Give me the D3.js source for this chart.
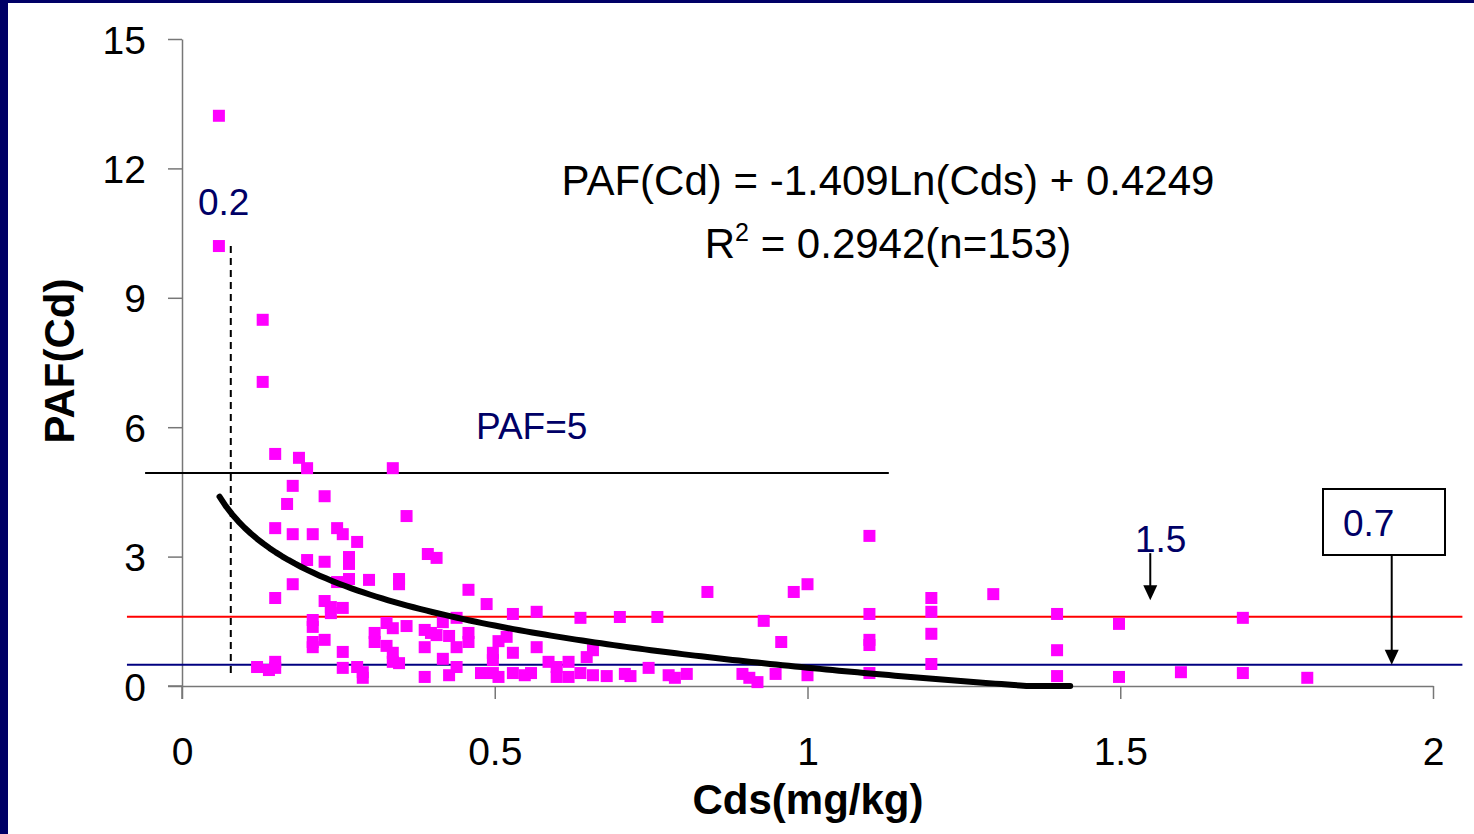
<!DOCTYPE html>
<html>
<head>
<meta charset="utf-8">
<script src="https://cdn.jsdelivr.net/npm/d3@7"></script>
<style>
  html, body { margin: 0; padding: 0; background: #fff; }
  svg { display: block; }
</style>
</head>
<body>
<div id="chart"></div>
<script>
// Scatter data: Cds (mg/kg) vs PAF(Cd)
var cds = [0.059, 0.059, 0.129, 0.129, 0.149, 0.187, 0.200, 0.337, 0.177, 0.168,
  0.228, 0.359, 0.149, 0.177, 0.209, 0.248, 0.257, 0.280, 0.200, 0.228,
  0.267, 0.267, 0.393, 0.407, 0.177, 0.248, 0.267, 0.299, 0.347, 0.347,
  0.149, 0.228, 0.238, 0.238, 0.257, 0.209, 0.209, 0.209, 0.209, 0.228,
  0.257, 0.327, 0.337, 0.359, 0.308, 0.308, 0.327, 0.337, 0.337, 0.347,
  0.388, 0.398, 0.388, 0.388, 0.120, 0.139, 0.149, 0.149, 0.257, 0.280,
  0.289, 0.289, 0.458, 0.487, 0.417, 0.439, 0.407, 0.427, 0.439, 0.458,
  0.458, 0.529, 0.567, 0.637, 0.519, 0.506, 0.529, 0.567, 0.417, 0.427,
  0.439, 0.478, 0.497, 0.497, 0.497, 0.506, 0.529, 0.548, 0.558, 0.586,
  0.599, 0.599, 0.618, 0.618, 0.637, 0.647, 0.657, 0.657, 1.099, 0.840,
  0.978, 1.000, 0.700, 0.760, 0.930, 1.099, 1.099, 1.099, 0.958, 0.679,
  0.708, 0.717, 0.746, 0.778, 0.788, 0.807, 0.896, 0.907, 0.920, 0.949,
  1.000, 1.099, 1.198, 1.198, 1.198, 1.198, 1.297, 1.399, 1.399, 1.399,
  1.498, 1.498, 1.597, 1.696, 1.696, 1.799];
var paf = [13.22, 10.20, 8.49, 7.05, 5.38, 5.29, 5.05, 5.05, 4.64, 4.22,
  4.40, 3.94, 3.66, 3.52, 3.52, 3.66, 3.52, 3.34, 2.92, 2.88,
  2.99, 2.83, 3.06, 2.97, 2.36, 2.41, 2.48, 2.46, 2.48, 2.36,
  2.04, 1.97, 1.83, 1.69, 1.81, 1.53, 1.37, 1.02, 0.90, 1.07,
  0.79, 1.46, 1.34, 1.39, 1.23, 1.02, 0.93, 0.77, 0.56, 0.53,
  1.30, 1.23, 0.90, 0.21, 0.44, 0.37, 0.56, 0.42, 0.42, 0.44,
  0.32, 0.19, 2.23, 1.90, 1.48, 1.58, 1.18, 1.16, 0.90, 1.23,
  1.02, 1.67, 1.72, 1.58, 1.14, 1.04, 0.77, 0.90, 0.63, 0.25,
  0.44, 0.30, 0.77, 0.60, 0.30, 0.21, 0.30, 0.25, 0.30, 0.56,
  0.44, 0.21, 0.21, 0.56, 0.30, 0.67, 0.83, 0.25, 3.48, 2.18,
  2.18, 2.36, 1.60, 1.60, 1.51, 1.67, 1.07, 0.95, 1.02, 0.23,
  0.28, 0.23, 0.42, 0.25, 0.19, 0.28, 0.28, 0.19, 0.09, 0.28,
  0.25, 0.30, 2.04, 1.72, 1.21, 0.51, 2.13, 1.67, 0.83, 0.23,
  1.44, 0.21, 0.32, 1.58, 0.30, 0.19];

// Axis ticks
var xTicks = [0, 0.5, 1, 1.5, 2];
var yTicks = [0, 3, 6, 9, 12, 15];

// Log trendline: PAF = a*ln(Cds) + b
var trendA = -1.409;
var trendB = 0.4249;
var trendRange = [0.06, 1.42];

// Reference lines (PAF level, x extent in data units)
var redLevel = 1.607;
var navyLevel = 0.49;
var pafFiveLevel = 4.94;
var cutoffX = 0.078;

var width = 1474, height = 834;

var svg = d3.select('#chart').append('svg')
  .attr('width', width)
  .attr('height', height)
  .style('font-family', 'Liberation Sans, Arial, sans-serif');

// navy frame on top and left
svg.append('rect').attr('x', 0).attr('y', 0).attr('width', width).attr('height', 3).attr('fill', '#000066');
svg.append('rect').attr('x', 0).attr('y', 0).attr('width', 8).attr('height', height).attr('fill', '#000066');

var x = d3.scaleLinear().domain([0, 2]).range([182, 1433]);
var y = d3.scaleLinear().domain([0, 15]).range([686, 39]);

// Axes
var axisColor = '#777';
var yAxis = svg.append('g')
  .attr('transform', 'translate(' + x(0) + ',0)')
  .call(d3.axisLeft(y).tickValues(yTicks).tickSize(14).tickSizeOuter(0).tickPadding(22));
var xAxis = svg.append('g')
  .attr('transform', 'translate(0,' + y(0) + ')')
  .call(d3.axisBottom(x).tickValues(xTicks).tickSize(13).tickSizeOuter(0).tickPadding(38)
    .tickFormat(function (d) { return String(d); }));

[xAxis, yAxis].forEach(function (g) {
  g.select('.domain').attr('stroke', axisColor).attr('stroke-width', 1.5);
  g.selectAll('.tick line').attr('stroke', axisColor).attr('stroke-width', 1.5);
  g.selectAll('.tick text').attr('fill', '#000').style('font-size', '39px')
    .style('font-family', 'Liberation Sans, Arial, sans-serif');
});
yAxis.selectAll('.tick text').attr('dy', '0.36em');
// y axis continues down to the x tick, x axis reaches back to the y tick
svg.append('line').attr('x1', x(0)).attr('x2', x(0)).attr('y1', y(0)).attr('y2', y(0) + 13)
  .attr('stroke', axisColor).attr('stroke-width', 1.5);
svg.append('line').attr('x1', x(0) - 14).attr('x2', x(0)).attr('y1', y(0)).attr('y2', y(0))
  .attr('stroke', axisColor).attr('stroke-width', 1.5);

// Axis titles
svg.append('text')
  .attr('x', 808).attr('y', 814)
  .attr('text-anchor', 'middle')
  .style('font-size', '42px').style('font-weight', 'bold')
  .text('Cds(mg/kg)');
svg.append('text')
  .attr('transform', 'translate(74,361) rotate(-90)')
  .attr('text-anchor', 'middle')
  .style('font-size', '42px').style('font-weight', 'bold')
  .text('PAF(Cd)');

// Horizontal reference lines
svg.append('line')
  .attr('x1', x(-0.088)).attr('x2', x(2.047))
  .attr('y1', y(redLevel)).attr('y2', y(redLevel))
  .attr('stroke', '#ff0000').attr('stroke-width', 2);
svg.append('line')
  .attr('x1', x(-0.088)).attr('x2', x(2.047))
  .attr('y1', y(navyLevel)).attr('y2', y(navyLevel))
  .attr('stroke', '#000080').attr('stroke-width', 2);
svg.append('line')
  .attr('x1', x(-0.059)).attr('x2', x(1.13))
  .attr('y1', y(pafFiveLevel)).attr('y2', y(pafFiveLevel))
  .attr('stroke', '#000').attr('stroke-width', 2);

// dashed cut-off line
svg.append('line')
  .attr('x1', x(cutoffX)).attr('x2', x(cutoffX))
  .attr('y1', y(10.2)).attr('y2', y(0.25))
  .attr('stroke', '#000').attr('stroke-width', 2)
  .attr('stroke-dasharray', '7,5');

// Scatter points
var points = cds.map(function (d, i) { return { x: d, y: paf[i] }; });
svg.selectAll('.pt')
  .data(points)
  .enter().append('rect')
  .attr('class', 'pt')
  .attr('x', function (d) { return x(d.x) - 6; })
  .attr('y', function (d) { return y(d.y) - 6; })
  .attr('width', 12)
  .attr('height', 12)
  .attr('fill', '#ff00ff');

// Trendline
var trendX = d3.range(trendRange[0], trendRange[1] + 0.0001, 0.01);
var trendLine = d3.line()
  .x(function (d) { return x(d); })
  .y(function (d) { return y(Math.max(0, trendA * Math.log(d) + trendB)); });
svg.append('path')
  .datum(trendX)
  .attr('d', trendLine)
  .attr('fill', 'none')
  .attr('stroke', '#000')
  .attr('stroke-width', 6)
  .attr('stroke-linejoin', 'round')
  .attr('stroke-linecap', 'round');

// Equation
svg.append('text')
  .attr('x', 888).attr('y', 195)
  .attr('text-anchor', 'middle')
  .style('font-size', '42px')
  .text('PAF(Cd) = -1.409Ln(Cds) + 0.4249');
var r2 = svg.append('text')
  .attr('x', 888).attr('y', 258)
  .attr('text-anchor', 'middle')
  .style('font-size', '42px');
r2.append('tspan').text('R');
r2.append('tspan').attr('dy', -17).style('font-size', '25px').text('2');
r2.append('tspan').attr('dy', 17).text(' = 0.2942(n=153)');

// Navy annotation labels
var navy = '#000066';
svg.append('text').attr('x', 198).attr('y', 215).attr('fill', navy)
  .style('font-size', '37px').text('0.2');
svg.append('text').attr('x', 476).attr('y', 439).attr('fill', navy)
  .style('font-size', '37px').text('PAF=5');
svg.append('text').attr('x', 1135).attr('y', 552).attr('fill', navy)
  .style('font-size', '37px').text('1.5');

// arrows
function arrow(xv, y0, y1) {
  var px = x(xv), pa = y(y0), pb = y(y1);
  svg.append('line').attr('x1', px).attr('x2', px).attr('y1', pa).attr('y2', pb - 14)
    .attr('stroke', '#000').attr('stroke-width', 2);
  svg.append('path')
    .attr('d', 'M' + (px - 7) + ',' + (pb - 15) + 'L' + (px + 7) + ',' + (pb - 15) + 'L' + px + ',' + pb + 'Z')
    .attr('fill', '#000');
}
arrow(1.548, 3.08, 1.99);

// boxed 0.7 callout
svg.append('rect').attr('x', 1323).attr('y', 489).attr('width', 122).attr('height', 66)
  .attr('fill', '#fff').attr('stroke', '#000').attr('stroke-width', 2);
svg.append('text').attr('x', 1343).attr('y', 536).attr('fill', navy)
  .style('font-size', '37px').text('0.7');
arrow(1.934, 3.04, navyLevel);
</script>
</body>
</html>
